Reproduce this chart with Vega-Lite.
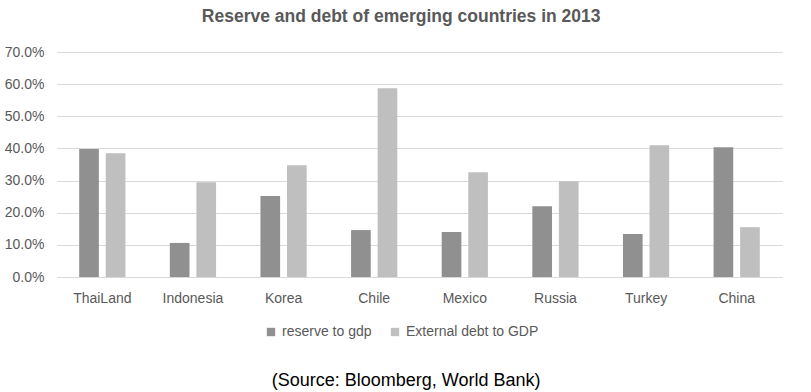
{
  "$schema": "https://vega.github.io/schema/vega-lite/v6.json",
  "background": "white",
  "padding": {"left": 4, "top": 7, "right": 28, "bottom": 2},
  "title": {"text": "(Source: Bloomberg, World Bank)", "orient": "bottom", "font": "Liberation Sans", "fontSize": 18, "fontWeight": "normal", "color": "#000000", "anchor": "middle", "frame": "bounds", "offset": 33, "dx": 13},
  "config": {"view": {"stroke": null}},
  "vconcat": [
    {
      "title": {"text": "Reserve and debt of emerging countries in 2013", "font": "Liberation Sans", "fontSize": 17.5, "fontWeight": "bold", "color": "#595959", "anchor": "middle", "frame": "bounds", "offset": 20, "dx": 8},
      "width": 725,
      "height": 225,
      "data": {"values": [
        {"country": "ThaiLand", "series": "reserve to gdp", "value": 0.398},
        {"country": "ThaiLand", "series": "External debt to GDP", "value": 0.385},
        {"country": "Indonesia", "series": "reserve to gdp", "value": 0.106},
        {"country": "Indonesia", "series": "External debt to GDP", "value": 0.295},
        {"country": "Korea", "series": "reserve to gdp", "value": 0.252},
        {"country": "Korea", "series": "External debt to GDP", "value": 0.348},
        {"country": "Chile", "series": "reserve to gdp", "value": 0.146},
        {"country": "Chile", "series": "External debt to GDP", "value": 0.587},
        {"country": "Mexico", "series": "reserve to gdp", "value": 0.140},
        {"country": "Mexico", "series": "External debt to GDP", "value": 0.326},
        {"country": "Russia", "series": "reserve to gdp", "value": 0.220},
        {"country": "Russia", "series": "External debt to GDP", "value": 0.298},
        {"country": "Turkey", "series": "reserve to gdp", "value": 0.134},
        {"country": "Turkey", "series": "External debt to GDP", "value": 0.410},
        {"country": "China", "series": "reserve to gdp", "value": 0.404},
        {"country": "China", "series": "External debt to GDP", "value": 0.155}
      ]},
      "mark": {"type": "bar"},
      "encoding": {
        "x": {"field": "country", "type": "nominal", "sort": null,
          "scale": {"paddingInner": 0.49, "paddingOuter": 0.245},
          "axis": {"title": null, "labelAngle": 0, "domainColor": "#d9d9d9", "ticks": false, "labelPadding": 14, "labelFont": "Liberation Sans", "labelFontSize": 14, "labelColor": "#595959"}},
        "xOffset": {"field": "series", "type": "nominal", "sort": ["reserve to gdp", "External debt to GDP"], "scale": {"paddingInner": 0.26}},
        "y": {"field": "value", "type": "quantitative",
          "scale": {"domain": [0, 0.7]},
          "axis": {"title": null, "format": ".1%", "values": [0, 0.1, 0.2, 0.3, 0.4, 0.5, 0.6, 0.7], "domain": false, "ticks": false, "gridColor": "#d9d9d9", "labelPadding": 13, "labelFont": "Liberation Sans", "labelFontSize": 14, "labelColor": "#595959"}},
        "color": {"field": "series", "type": "nominal", "sort": ["reserve to gdp", "External debt to GDP"],
          "scale": {"range": ["#909090", "#bfbfbf"]},
          "legend": {"orient": "none", "legendX": 207, "legendY": 273, "title": null, "direction": "horizontal", "symbolType": "square", "symbolSize": 70, "symbolStrokeWidth": 0, "labelFont": "Liberation Sans", "labelFontSize": 14, "labelColor": "#595959", "columnPadding": 16}}
      }
    }
  ]
}
